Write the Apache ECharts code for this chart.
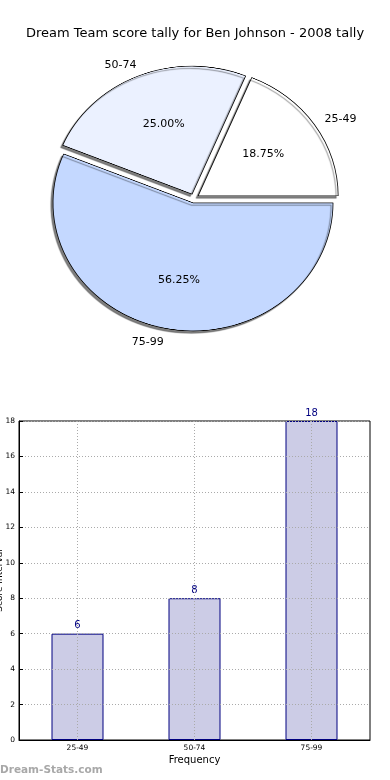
<!DOCTYPE html>
<html>
<head>
<meta charset="utf-8">
<script src="https://cdn.jsdelivr.net/npm/echarts@6/dist/echarts.min.js"></script>
<style>
html,body{margin:0;padding:0;background:#fff;}
#wrap{position:relative;width:390px;height:780px;overflow:hidden;}
#pie{position:absolute;left:0;top:0;width:390px;height:400px;z-index:1;transform-origin:194px 198.4px;transform:scaleY(0.9143);}
#main{position:absolute;left:0;top:0;width:390px;height:780px;z-index:2;}
</style>
</head>
<body>
<div id="wrap"><div id="pie"></div><div id="main"></div></div>
<script>
const titleText = 'Dream Team score tally for Ben Johnson - 2008 tally';
const categories = ['25-49', '50-74', '75-99'];
const counts = [6, 8, 18];
const sliceColors = ['#FFFFFF', '#EBF1FF', '#C4D8FF'];
const yTicks = [0, 2, 4, 6, 8, 10, 12, 14, 16, 18];
const xAxisName = 'Frequency';
const yAxisName = 'Score Interval';
const watermark = 'Dream-Stats.com';

const FONT = 'DejaVu Sans';
const total = counts.reduce((a, b) => a + b, 0);
const CX = 194, CY = 198.4;

// pie shapes (elliptical via vertical scale of container)
const pieChart = echarts.init(document.getElementById('pie'), null, {devicePixelRatio: 2});
pieChart.setOption({
  animation: false,
  series: [{
    type: 'pie',
    center: [CX, CY],
    radius: [0, 140],
    startAngle: 0,
    clockwise: false,
    selectedMode: 'multiple',
    selectedOffset: 5,
    avoidLabelOverlap: false,
    label: {show: false},
    labelLine: {show: false},
    emphasis: {disabled: true},
    itemStyle: {
      borderColor: '#000', borderWidth: 0.8,
      shadowColor: 'rgba(0,0,0,0.5)', shadowBlur: 1, shadowOffsetX: -2, shadowOffsetY: 2.5
    },
    select: {itemStyle: {borderColor: '#000', borderWidth: 0.8}},
    data: categories.map((c, i) => ({name: c, value: counts[i], selected: true, itemStyle: {color: sliceColors[i]}}))
  }]
});

const chart = echarts.init(document.getElementById('main'));
const labelData = categories.map((c, i) => ({name: c, value: counts[i]}));
chart.setOption({
  animation: false,
  title: {
    text: titleText, left: 'center', top: 22,
    textStyle: {fontFamily: FONT, fontSize: 13, fontWeight: 'normal', color: '#000'}
  },
  grid: {left: 19, right: 20, top: 421, bottom: 40, containLabel: false, outerBoundsMode: 'none',
    show: true, borderColor: '#000', borderWidth: 1, backgroundColor: 'transparent'},
  xAxis: {
    type: 'category', data: categories, z: 3,
    name: xAxisName, nameLocation: 'middle', nameGap: 15,
    nameTextStyle: {fontFamily: FONT, fontSize: 10, color: '#000'},
    axisLine: {lineStyle: {color: '#000'}},
    axisTick: {show: false},
    axisLabel: {fontFamily: FONT, fontSize: 7.5, color: '#000', margin: 4},
    splitLine: {show: true, alignWithLabel: true, lineStyle: {color: '#aaa', type: [1, 2], width: 1}}
  },
  yAxis: {
    type: 'value', min: 0, max: 18, interval: 2, z: 3,
    name: yAxisName, nameLocation: 'middle', nameGap: 14.5, nameRotate: 90, nameMoveOverlap: false,
    nameTextStyle: {fontFamily: FONT, fontSize: 9, color: '#000'},
    axisLine: {show: true, lineStyle: {color: '#000'}},
    axisTick: {show: true, inside: true, length: 4, lineStyle: {color: '#000'}},
    axisLabel: {fontFamily: FONT, fontSize: 7.5, color: '#000', margin: 4,
      formatter: v => (yTicks.indexOf(v) >= 0 ? String(v) : '')},
    splitLine: {show: true, lineStyle: {color: '#aaa', type: [1, 2], width: 1}}
  },
  series: [
    {
      type: 'bar', data: counts, barWidth: 52,
      itemStyle: {color: '#CCCCE6', borderColor: '#000080', borderWidth: 1},
      label: {show: true, position: 'top', distance: 3, color: '#000080', fontFamily: FONT, fontSize: 10},
      emphasis: {disabled: true}
    },
    {
      type: 'pie', center: [195, 200], radius: [0, 158], startAngle: 0, clockwise: false,
      silent: true, avoidLabelOverlap: false,
      itemStyle: {color: 'rgba(0,0,0,0)', borderWidth: 0},
      label: {show: true, position: 'inside', color: '#000', fontFamily: FONT, fontSize: 11,
        formatter: p => (p.value / total * 100).toFixed(2) + '%'},
      labelLine: {show: false},
      emphasis: {disabled: true},
      data: labelData
    },
    {
      type: 'pie', center: [198, 199.5], radius: [0, 145], startAngle: 0, clockwise: false,
      silent: true, avoidLabelOverlap: false,
      itemStyle: {color: 'rgba(0,0,0,0)', borderWidth: 0},
      label: {show: true, position: 'outside', color: '#000', fontFamily: FONT, fontSize: 11,
        distanceToLabelLine: 6, formatter: '{b}'},
      labelLine: {show: false, length: 0, length2: 0},
      emphasis: {disabled: true},
      data: labelData
    }
  ],
  graphic: [{
    type: 'text', left: 0, top: 765,
    style: {text: watermark, fontFamily: FONT, fontSize: 10.5, fontWeight: 'bold', fill: '#a8a8a8'}
  }]
});
</script>
</body>
</html>
